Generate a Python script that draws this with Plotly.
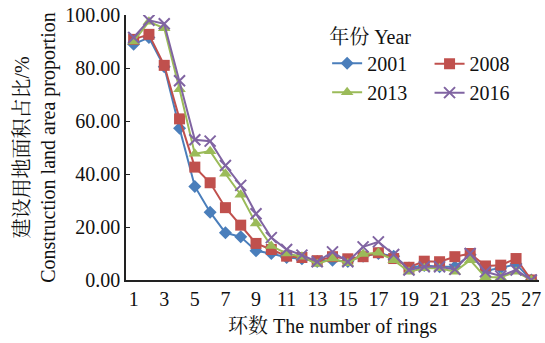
import plotly.graph_objects as go

# Ring index (1 = innermost) and construction-land share (%) per survey year
rings = list(range(1, 28))
y2001 = [89.0, 91.5, 80.5, 57.3, 35.3, 25.6, 17.8, 16.3, 11.0, 10.0, 8.5, 8.0, 7.0, 7.5,
         7.0, 9.0, 10.0, 9.0, 4.5, 5.5, 5.0, 5.0, 9.5, 3.5, 4.5, 6.0, 0.0]
y2008 = [90.8, 92.7, 81.0, 60.8, 42.6, 36.7, 27.3, 20.7, 13.8, 11.5, 9.0, 8.5, 7.3, 8.8,
         8.0, 8.8, 10.3, 8.1, 4.8, 7.1, 6.9, 8.8, 10.0, 5.3, 5.6, 8.1, 0.0]
y2013 = [90.0, 97.5, 95.0, 72.0, 47.6, 48.6, 40.1, 32.2, 21.3, 12.8, 10.0, 8.8, 6.0, 8.1,
         6.3, 9.8, 10.3, 7.5, 3.1, 4.4, 4.4, 3.1, 7.5, 1.0, 1.0, 3.1, 0.0]
y2016 = [91.5, 98.0, 96.7, 75.2, 52.9, 52.4, 43.2, 35.7, 25.0, 16.0, 11.5, 9.4, 6.9, 10.6,
         6.9, 12.5, 14.4, 9.6, 3.8, 5.0, 5.0, 4.0, 10.0, 3.1, 1.5, 3.8, 0.0]
years = ["2001", "2008", "2013", "2016"]
x_ticks = list(range(1, 28, 2))
y_ticks = [0, 20, 40, 60, 80, 100]

FONT = "Liberation Serif, Noto Serif CJK SC, Noto Sans CJK SC, serif"
FS = 20

# Two-column legend: left column (2001, 2013) carries the title, right column (2008, 2016)
styles = [
    dict(color="#4A7EBB", symbol="diamond", size=10, legend="legend"),
    dict(color="#C0504D", symbol="square", size=11, legend="legend2"),
    dict(color="#9BBB59", symbol="triangle-up", size=11, legend="legend"),
    dict(color="#8064A2", symbol="x-thin", size=11, legend="legend2"),
]

fig = go.Figure()
for name, ys, st in zip(years, [y2001, y2008, y2013, y2016], styles):
    marker = dict(symbol=st["symbol"], size=st["size"], color=st["color"])
    if st["symbol"] == "x-thin":
        marker["line"] = dict(color=st["color"], width=2)
    fig.add_trace(go.Scatter(
        x=rings, y=ys, name=name, mode="lines+markers",
        line=dict(color=st["color"], width=2),
        marker=marker, legend=st["legend"],
    ))

fig.update_layout(
    width=545, height=343,
    margin=dict(l=126, r=4, t=14, b=63),
    paper_bgcolor="white", plot_bgcolor="white",
    font=dict(family=FONT, size=FS, color="#111111"),
    legend=dict(
        title=dict(text="年份 Year", font=dict(size=FS), side="top"),
        orientation="v", x=0.487, y=0.99, xanchor="left", yanchor="top",
        bgcolor="rgba(0,0,0,0)", font=dict(size=FS), itemwidth=30,
    ),
    legend2=dict(
        orientation="v", x=0.735, y=0.89, xanchor="left", yanchor="top",
        bgcolor="rgba(0,0,0,0)", font=dict(size=FS), itemwidth=30,
    ),
    xaxis=dict(
        range=[0.5, 27.5], tickvals=x_ticks, ticktext=[str(t) for t in x_ticks],
        showline=True, linecolor="#222222", linewidth=1.5, ticks="",
        showgrid=False, zeroline=False,
        title=dict(text="环数 The number of rings", font=dict(size=FS), standoff=10),
    ),
    yaxis=dict(
        range=[0, 100], tickvals=y_ticks, tickformat=".2f",
        showline=True, linecolor="#222222", linewidth=1.5,
        ticks="inside", ticklen=4, tickcolor="#222222",
        showgrid=False, zeroline=False,
        title=dict(text="建设用地面积占比/%<br>Construction land area proportion",
                   font=dict(size=FS), standoff=4),
    ),
)

fig.write_html("out.html")
